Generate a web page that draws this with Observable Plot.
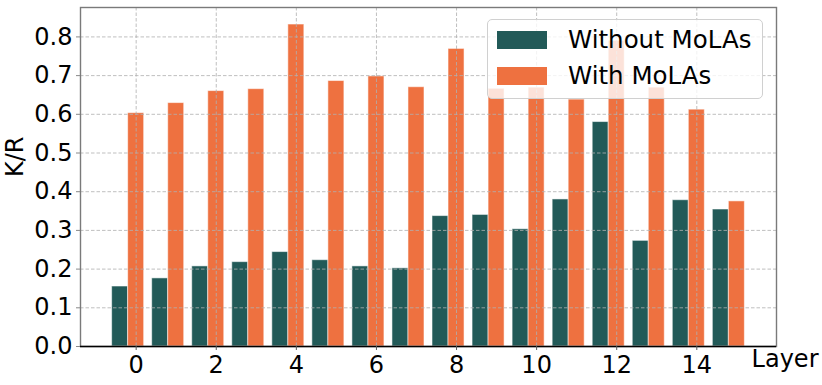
<!DOCTYPE html>
<html>
<head>
<meta charset="utf-8">
<script src="https://cdn.jsdelivr.net/npm/d3@7"></script>
<script src="https://cdn.jsdelivr.net/npm/@observablehq/plot@0.6"></script>
<style>
  html, body { margin: 0; padding: 0; background: #fff; }
  #wrap { position: relative; width: 822px; height: 385px; font-family: "DejaVu Sans", sans-serif; }
  #legend {
    position: absolute; left: 487px; top: 19px; width: 276px; height: 80px;
    background: rgba(255,255,255,0.8); border: 1px solid #d0d0d0; border-radius: 5px;
    box-sizing: border-box;
  }
  .item { position: absolute; left: 9px; height: 18px; display: flex; align-items: center; }
  .sw { width: 50px; height: 17.5px; margin-right: 21px; flex: none; }
  .lab { font-size: 24.5px; color: #000; white-space: nowrap; line-height: 18px; }
</style>
</head>
<body>
<div id="wrap"></div>
<script>
const layers = [0,1,2,3,4,5,6,7,8,9,10,11,12,13,14,15];
const withoutMoLAs = [0.155,0.176,0.207,0.218,0.244,0.223,0.207,0.202,0.337,0.340,0.303,0.380,0.580,0.273,0.378,0.354];
const withMoLAs = [0.603,0.629,0.660,0.665,0.832,0.686,0.698,0.670,0.769,0.666,0.669,0.638,0.790,0.669,0.612,0.375];
const seriesNames = ["Without MoLAs", "With MoLAs"];
const seriesColors = ["#225a58", "#ee7140"];
const xTicks = [0,2,4,6,8,10,12,14];
const yTicks = [0.0,0.1,0.2,0.3,0.4,0.5,0.6,0.7,0.8];

const rows = [];
layers.forEach((l, i) => {
  rows.push({layer: l, series: seriesNames[0], value: withoutMoLAs[i], off: -0.6});
  rows.push({layer: l, series: seriesNames[1], value: withMoLAs[i], off: -0.2});
});

const FS = 24;
const plot = Plot.plot({
  width: 822,
  height: 385,
  marginLeft: 80,
  marginRight: 46,
  marginTop: 7,
  marginBottom: 39,
  style: {fontFamily: "DejaVu Sans, sans-serif", fontSize: FS + "px", color: "#000", background: "#fff"},
  x: {type: "linear", domain: [-1.39, 15.99]},
  y: {domain: [0, 0.876]},
  color: {domain: seriesNames, range: seriesColors},
  marks: [
    Plot.rect(rows, {
      x1: d => d.layer + d.off, x2: d => d.layer + d.off + 0.4,
      y1: 0, y2: "value", fill: "series",
      stroke: "white", strokeOpacity: 0.55, strokeWidth: 1
    }),
    Plot.gridX(xTicks, {stroke: "#b0b0b0", strokeOpacity: 0.9, strokeDasharray: "3.5,2", strokeWidth: 0.9}),
    Plot.gridY(yTicks.slice(1), {stroke: "#b0b0b0", strokeOpacity: 0.9, strokeDasharray: "3.5,2", strokeWidth: 0.9}),
    Plot.frame({stroke: "#7a7a7a", strokeWidth: 1.4}),
    Plot.ruleY([0], {stroke: "#000", strokeWidth: 1.4}),
    Plot.axisX(xTicks, {tickFormat: d => String(d), tickSize: 4, tickPadding: 5, stroke: "#555", label: null, fontSize: FS}),
    Plot.axisY(yTicks, {tickFormat: d => d.toFixed(1), tickSize: 4, tickPadding: 4, stroke: "#888", label: null, fontSize: FS}),
    Plot.text(["Layer"], {frameAnchor: "bottom-right", dx: 42, dy: 20, textAnchor: "end", fontSize: FS}),
    Plot.text(["K/R"], {frameAnchor: "left", dx: -65, rotate: -90, fontSize: FS})
  ]
});

const wrap = document.getElementById("wrap");
wrap.appendChild(plot);

const legend = document.createElement("div");
legend.id = "legend";
seriesNames.forEach((name, i) => {
  const item = document.createElement("div");
  item.className = "item";
  item.style.top = (i === 0 ? 11 : 47) + "px";
  const sw = document.createElement("div");
  sw.className = "sw";
  sw.style.background = seriesColors[i];
  const lab = document.createElement("span");
  lab.className = "lab";
  lab.textContent = name;
  item.appendChild(sw);
  item.appendChild(lab);
  legend.appendChild(item);
});
wrap.appendChild(legend);
</script>
</body>
</html>
